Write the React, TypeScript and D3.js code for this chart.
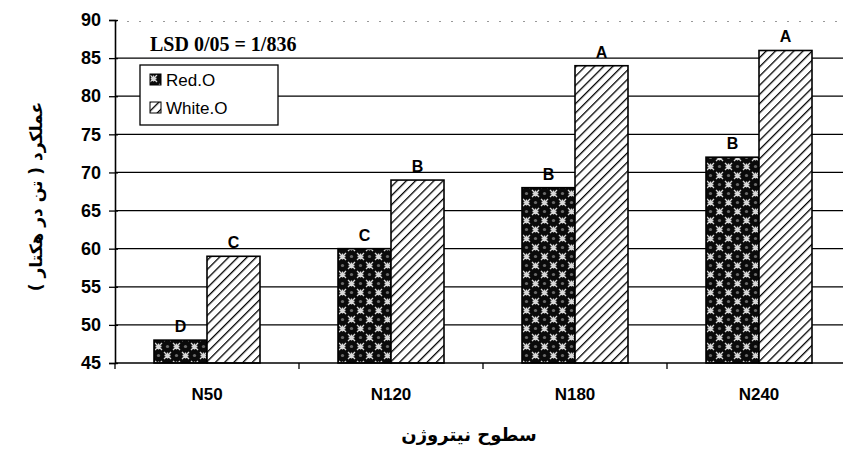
import { useEffect, useRef } from 'react';
import * as d3 from 'd3';

const categories = ['N50', 'N120', 'N180', 'N240'];
const seriesNames = ['Red.O', 'White.O'];
const redValues = [48, 60, 68, 72];
const whiteValues = [59, 69, 84, 86];
const redLetters = ['D', 'C', 'B', 'B'];
const whiteLetters = ['C', 'B', 'A', 'A'];
const yTicks = [45, 50, 55, 60, 65, 70, 75, 80, 85, 90];

const W = 843;
const H = 456;

export default function App() {
    const svgRef = useRef<SVGSVGElement>(null);

    useEffect(() => {
        if (!svgRef.current) return;
        document.body.style.margin = '0';

        const svg = d3.select(svgRef.current);
        svg.selectAll('*').remove();

        const left = 115, top = 20, bottom = 363;
        const step = 184;

        const x = d3.scaleBand().domain(categories).range([left, left + step * categories.length]).padding(0);
        const inner = d3.scaleBand().domain(seriesNames).range([0, 106]);
        const groupOffset = (x.bandwidth() - 106) / 2;
        const y = d3.scaleLinear().domain([45, 90]).range([bottom, top]);

        // patterns
        const defs = svg.append('defs');
        const red = defs.append('pattern').attr('id', 'pat-red')
            .attr('patternUnits', 'userSpaceOnUse').attr('width', 18).attr('height', 18);
        red.append('rect').attr('width', 18).attr('height', 18).attr('fill', '#0a0a0a');
        [[4.5, 4.5], [13.5, 13.5]].forEach(([cx, cy]) => {
            red.append('path')
                .attr('d', `M${cx - 3.5},${cy - 3.5}L${cx + 3.5},${cy + 3.5}M${cx + 3.5},${cy - 3.5}L${cx - 3.5},${cy + 3.5}M${cx},${cy - 3}L${cx},${cy + 3}M${cx - 3},${cy}L${cx + 3},${cy}`)
                .attr('stroke', '#d8d8d8').attr('stroke-width', 1.3);
        });
        [[13.5, 4.5], [4.5, 13.5]].forEach(([cx, cy]) => {
            red.append('circle').attr('cx', cx).attr('cy', cy).attr('r', 1.6).attr('fill', '#6a6a6a');
        });

        const white = defs.append('pattern').attr('id', 'pat-white')
            .attr('patternUnits', 'userSpaceOnUse').attr('width', 6.5).attr('height', 6.5)
            .attr('patternTransform', 'rotate(45)');
        white.append('rect').attr('width', 6.5).attr('height', 6.5).attr('fill', '#fff');
        white.append('line').attr('x1', 0).attr('x2', 0).attr('y1', 0).attr('y2', 6.5)
            .attr('stroke', '#000').attr('stroke-width', 2.6);

        // gridlines
        svg.append('g').selectAll('line')
            .data(yTicks.filter(t => t > 45 && t < 90))
            .join('line')
            .attr('x1', left).attr('x2', W)
            .attr('y1', d => y(d)).attr('y2', d => y(d))
            .attr('stroke', '#000').attr('stroke-width', 1.3);
        svg.append('line')
            .attr('x1', left).attr('x2', W)
            .attr('y1', y(90) + 1.5).attr('y2', y(90) + 1.5)
            .attr('stroke', '#999').attr('stroke-width', 1).attr('stroke-dasharray', '2,10');

        // bars
        const rows = categories.map((c, i) => ({
            c,
            vals: [
                { s: seriesNames[0], v: redValues[i], l: redLetters[i], fill: 'url(#pat-red)' },
                { s: seriesNames[1], v: whiteValues[i], l: whiteLetters[i], fill: 'url(#pat-white)' },
            ],
        }));

        const groups = svg.append('g').selectAll('g')
            .data(rows)
            .join('g')
            .attr('transform', d => `translate(${x(d.c)! + groupOffset},0)`);

        groups.selectAll('rect')
            .data(d => d.vals)
            .join('rect')
            .attr('x', d => inner(d.s)!)
            .attr('y', d => y(d.v))
            .attr('width', inner.bandwidth())
            .attr('height', d => bottom - y(d.v))
            .attr('fill', d => d.fill)
            .attr('stroke', '#000').attr('stroke-width', 1.6);

        groups.selectAll('text')
            .data(d => d.vals)
            .join('text')
            .attr('x', d => inner(d.s)! + inner.bandwidth() / 2)
            .attr('y', d => y(d.v) - 8)
            .attr('text-anchor', 'middle')
            .attr('font-family', 'Liberation Sans, Arial, sans-serif')
            .attr('font-weight', 'bold').attr('font-size', 16)
            .text(d => d.l);

        // y axis
        const yAxis = svg.append('g').attr('transform', `translate(${left},0)`)
            .call(d3.axisLeft(y).tickValues(yTicks).tickSize(6).tickPadding(8));
        yAxis.select('.domain').attr('stroke', '#000').attr('stroke-width', 1.6);
        yAxis.selectAll('.tick line').attr('stroke', '#000').attr('stroke-width', 1.3).attr('x2', -6).attr('x1', 3);
        yAxis.selectAll('text')
            .attr('font-family', 'Liberation Sans, Arial, sans-serif')
            .attr('font-weight', 'bold').attr('font-size', 18).attr('fill', '#000');

        // x axis
        const xAxis = svg.append('g').attr('transform', `translate(0,${bottom})`)
            .call(d3.axisBottom(x).tickSize(0).tickPadding(25));
        xAxis.select('.domain').remove();
        svg.append('line').attr('x1', left).attr('x2', W).attr('y1', bottom).attr('y2', bottom)
            .attr('stroke', '#000').attr('stroke-width', 1.6);
        svg.append('g').selectAll('line')
            .data(categories)
            .join('line')
            .attr('x1', d => x(d)!).attr('x2', d => x(d)!)
            .attr('y1', bottom).attr('y2', bottom + 6)
            .attr('stroke', '#000').attr('stroke-width', 1.3);
        xAxis.selectAll('text')
            .attr('font-family', 'Liberation Sans, Arial, sans-serif')
            .attr('font-weight', 'bold').attr('font-size', 17).attr('fill', '#000');

        // titles
        svg.append('text')
            .attr('transform', `translate(42,${(top + bottom) / 2 + 5}) rotate(-90)`)
            .attr('text-anchor', 'middle')
            .attr('font-family', 'DejaVu Sans, sans-serif')
            .attr('font-weight', 'bold').attr('font-size', 17)
            .attr('direction', 'rtl')
            .text('عملکرد ( تن در هکتار )');
        svg.append('text')
            .attr('x', (left + W) / 2 - 10).attr('y', 441)
            .attr('text-anchor', 'middle')
            .attr('font-family', 'DejaVu Sans, sans-serif')
            .attr('font-weight', 'bold').attr('font-size', 18)
            .attr('direction', 'rtl')
            .text('سطوح نیتروژن');

        // LSD annotation
        svg.append('text')
            .attr('x', 150).attr('y', 51)
            .attr('font-family', 'Liberation Serif, Times New Roman, serif')
            .attr('font-weight', 'bold').attr('font-size', 20)
            .text('LSD 0/05 = 1/836');

        // legend
        const leg = svg.append('g').attr('transform', 'translate(140,65)');
        leg.append('rect').attr('width', 138).attr('height', 60)
            .attr('fill', '#fff').attr('stroke', '#000').attr('stroke-width', 1.3);
        const fills = ['url(#pat-red)', 'url(#pat-white)'];
        seriesNames.forEach((s, i) => {
            leg.append('rect').attr('x', 10).attr('y', 9 + i * 28).attr('width', 11).attr('height', 11)
                .attr('fill', fills[i]).attr('stroke', '#000').attr('stroke-width', 1);
            leg.append('text').attr('x', 26).attr('y', 21 + i * 28)
                .attr('font-family', 'Liberation Sans, Arial, sans-serif')
                .attr('font-size', 17)
                .text(s);
        });
    }, []);

    return <svg ref={svgRef} width={W} height={H} style={{ display: 'block', background: '#fff' }} />;
}
